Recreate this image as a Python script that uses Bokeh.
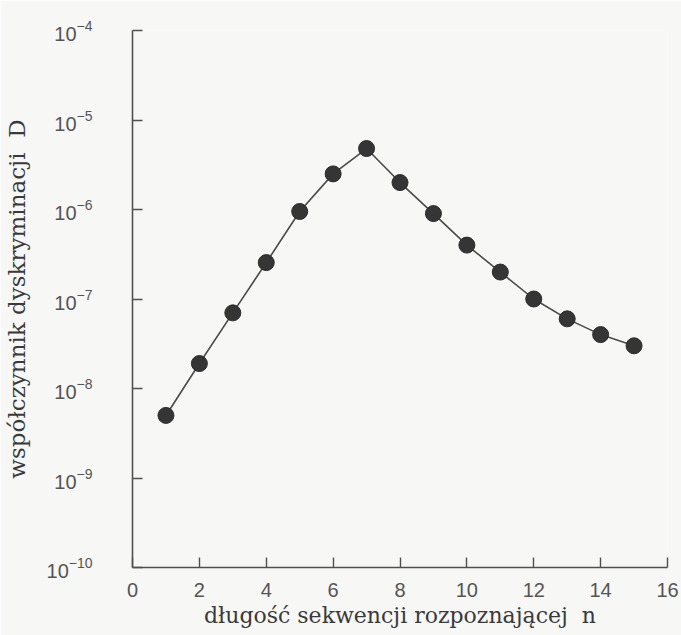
from bokeh.plotting import figure
from bokeh.models import Range1d, FixedTicker, LogTickFormatter
from bokeh.embed import file_html
from bokeh.resources import INLINE

# data
n = [1, 2, 3, 4, 5, 6, 7, 8, 9, 10, 11, 12, 13, 14, 15]
D = [5.0e-9, 1.9e-8, 7.0e-8, 2.55e-7, 9.5e-7, 2.5e-6, 4.8e-6,
     2.0e-6, 9.0e-7, 4.0e-7, 2.0e-7, 1.0e-7, 6.0e-8, 4.0e-8, 3.0e-8]
x_ticks = [0, 2, 4, 6, 8, 10, 12, 14, 16]
y_ticks = [1e-10, 1e-9, 1e-8, 1e-7, 1e-6, 1e-5, 1e-4]
x_title = "długość sekwencji rozpoznającej\u00a0 n"
y_title = "współczynnik dyskryminacji\u00a0 D"

bg = "#f7f7f5"
ink = "#505050"
p = figure(width=681, height=635, y_axis_type="log",
           x_range=Range1d(0, 16), y_range=Range1d(1e-10, 1e-4),
           output_backend="svg", toolbar_location=None,
           min_border_left=132, min_border_right=14,
           min_border_top=30, min_border_bottom=68)
p.background_fill_color = bg
p.border_fill_color = bg
p.outline_line_color = None
p.xgrid.visible = False
p.ygrid.visible = False

p.line(n, D, line_width=1.6, line_color="#4a4a4a")
p.scatter(n, D, size=16, fill_color="#353535", line_color="#2c2c2c")

for ax in (p.xaxis[0], p.yaxis[0]):
    ax.axis_line_color = ink
    ax.axis_line_width = 1.6
    ax.major_tick_line_color = ink
    ax.major_tick_line_width = 1.4
    ax.major_tick_out = 0
    ax.major_tick_in = 10
    ax.minor_tick_line_color = None
    ax.major_label_text_font = "Liberation Sans"
    ax.major_label_text_font_size = "20px"
    ax.major_label_text_color = "#555555"
    ax.axis_label_text_font = "DejaVu Serif"
    ax.axis_label_text_font_style = "normal"
    ax.axis_label_text_color = "#3a3a3a"

p.xaxis[0].axis_label_text_font_size = "22px"
p.yaxis[0].axis_label_text_font_size = "23px"
p.xaxis[0].ticker = FixedTicker(ticks=x_ticks)
p.yaxis[0].ticker = FixedTicker(ticks=y_ticks)
p.yaxis[0].formatter = LogTickFormatter()
p.yaxis[0].major_label_text_align = "left"
p.xaxis[0].major_label_standoff = 15
p.yaxis[0].major_label_standoff = 40
p.xaxis[0].axis_label = x_title
p.yaxis[0].axis_label = y_title
p.xaxis[0].axis_label_standoff = 3
p.yaxis[0].axis_label_standoff = 14

open("out.html", "w").write(file_html(p, INLINE))
